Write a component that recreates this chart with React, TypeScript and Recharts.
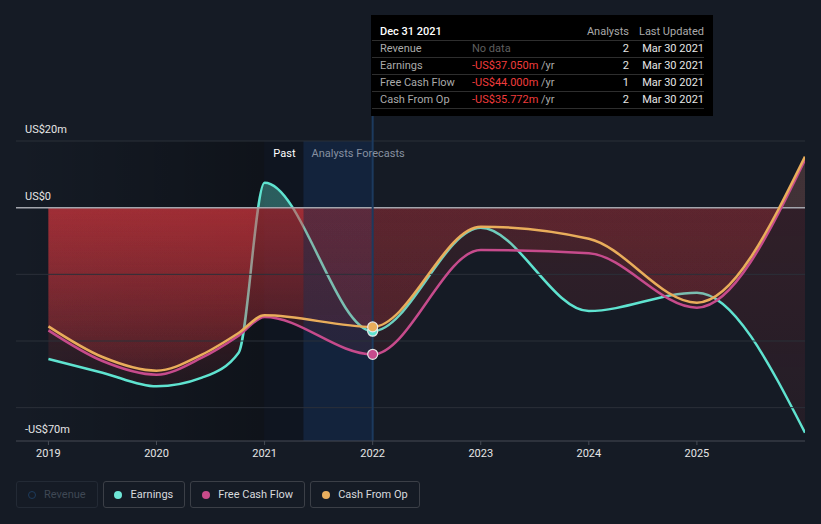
import React from 'react';
import {
  ComposedChart, Area, Line, XAxis, YAxis, ReferenceLine, ReferenceArea,
} from 'recharts';

// ---------- data ----------
const pastDates = [2019.0, 2019.5, 2020.0, 2020.42, 2020.76, 2021.0];
const forecastDates = [2022, 2023, 2024, 2025, 2026];

const earningsPast = [-45.4, -49.5, -53.6, -51.0, -43.5, 7.5];
const earningsForecast = [-37.05, -6.0, -31.0, -25.5, -67.5];

const fcfPast = [-36.8, -46.0, -50.1, -45.0, -38.4, -32.8];
const fcfForecast = [-44.0, -12.7, -13.7, -30.0, 14.3];

const cfoPast = [-35.6, -44.8, -48.9, -44.1, -37.6, -32.3];
const cfoForecast = [-35.772, -5.7, -9.3, -28.5, 15.3];

const xTicks = [2019, 2020, 2021, 2022, 2023, 2024, 2025];
const yTickValues = [20, 0, -70];
const yTickLabels = ['US$20m', 'US$0', '-US$70m'];
const gridValues = [20, -20, -40, -60];

const tooltipTitle = 'Dec 31 2021';
const tooltipRows = [
  { name: 'Revenue', value: 'No data', analysts: '2', updated: 'Mar 30 2021' },
  { name: 'Earnings', value: '-US$37.050m', analysts: '2', updated: 'Mar 30 2021' },
  { name: 'Free Cash Flow', value: '-US$44.000m', analysts: '1', updated: 'Mar 30 2021' },
  { name: 'Cash From Op', value: '-US$35.772m', analysts: '2', updated: 'Mar 30 2021' },
];

const legendItems = [
  { name: 'Revenue', color: '#1d3b5c', active: false },
  { name: 'Earnings', color: '#6ee6d6', active: true },
  { name: 'Free Cash Flow', color: '#c94b8a', active: true },
  { name: 'Cash From Op', color: '#e9ae5e', active: true },
];

const PAST_START = 2018.7;
const PAST_END = 2021.0;
const FORECAST_START = 2021.36;
const MARKER_DATE = 2022;

// ---------- layout / style ----------
const W = 821;
const H = 524;
const X_MIN = 2018.7;
const X_MAX = 2026;
const Y_MIN = -70;
const Y_MAX = 20;
const MARGIN = { top: 141, right: 16, bottom: 53, left: 16 };
const XAXIS_H = 30;
const PLOT_TOP = MARGIN.top;
const PLOT_BOTTOM = H - MARGIN.bottom - XAXIS_H;
const PLOT_W = W - MARGIN.left - MARGIN.right;
const ZERO_FRAC = (Y_MAX - 0) / (Y_MAX - Y_MIN);
const SPLIT_X = MARGIN.left + ((FORECAST_START - X_MIN) / (X_MAX - X_MIN)) * PLOT_W;

const BG = '#151b25';
const C_EARN = '#5fe3d0';
const C_FCF = '#c64b8c';
const C_CFO = '#e9ad5b';
const C_RED = '#dc373e';
const FONT = 'Roboto, "Open Sans", sans-serif';

const build = (vals: number[]) =>
  pastDates.concat(forecastDates).map((d, i) => ({ x: d, v: vals[i] }));

const earningsData = build(earningsPast.concat(earningsForecast));
const fcfData = build(fcfPast.concat(fcfForecast));
const cfoData = build(cfoPast.concat(cfoForecast));

function grad(id: string, pos: string, posA: number, negTop: number, negBottom: number) {
  return (
    <linearGradient id={id} key={id} gradientUnits="userSpaceOnUse" x1={0} y1={PLOT_TOP} x2={0} y2={PLOT_BOTTOM}>
      <stop offset={0} stopColor={pos} stopOpacity={posA} />
      <stop offset={ZERO_FRAC} stopColor={pos} stopOpacity={posA} />
      <stop offset={ZERO_FRAC} stopColor={C_RED} stopOpacity={negTop} />
      <stop offset={1} stopColor={C_RED} stopOpacity={negBottom} />
    </linearGradient>
  );
}

function pattern(id: string) {
  return (
    <pattern id={id} key={id} patternUnits="userSpaceOnUse" x={0} y={0} width={W} height={H}>
      <rect x={0} y={0} width={SPLIT_X} height={H} fill={`url(#${id}-s)`} />
      <rect x={SPLIT_X} y={0} width={W - SPLIT_X} height={H} fill={`url(#${id}-w)`} />
    </pattern>
  );
}

const makeDot = (color: string) => (props: any) => {
  const { cx, cy, payload, index } = props;
  if (!payload || payload.x !== MARKER_DATE || cx == null) return <g key={`d${index}`} />;
  return <circle key={`d${index}`} cx={cx} cy={cy} r={5} fill={color} stroke="#e6e6e6" strokeWidth={1.2} />;
};

const yLabel = (text: string) => (props: any) => {
  const vb = (props && props.viewBox) || {};
  const x = typeof vb.x === 'number' ? vb.x : MARGIN.left;
  const y = typeof vb.y === 'number' ? vb.y : 0;
  return (
    <text x={x + 9} y={y - 8} fill="#e6e6e6" fontSize={11} fontFamily={FONT}>
      {text}
    </text>
  );
};

export default function App() {
  return (
    <div style={{ position: 'absolute', left: 0, top: 0, width: W, height: H, background: BG, fontFamily: FONT, overflow: 'hidden' }}>
      <ComposedChart width={W} height={H} margin={MARGIN}>
        <defs>
          <linearGradient id="pastShade" x1={0} y1={0} x2={1} y2={0}>
            <stop offset={0} stopColor="#000" stopOpacity={0} />
            <stop offset={1} stopColor="#000" stopOpacity={0.3} />
          </linearGradient>
          {grad('pe-s', C_EARN, 0.35, 0.33, 0.0)}
          {grad('pe-w', C_EARN, 0.12, 0.14, 0.07)}
          {grad('pf-s', C_FCF, 0.12, 0.33, 0.0)}
          {grad('pf-w', C_FCF, 0.12, 0.14, 0.07)}
          {grad('pc-s', C_CFO, 0.12, 0.33, 0.0)}
          {grad('pc-w', C_CFO, 0.12, 0.14, 0.07)}
          {pattern('pe')}
          {pattern('pf')}
          {pattern('pc')}
        </defs>

        <XAxis
          type="number"
          dataKey="x"
          domain={[X_MIN, X_MAX]}
          allowDataOverflow
          ticks={xTicks}
          height={XAXIS_H}
          tickSize={4}
          tickMargin={4}
          stroke="#464b55"
          tick={{ fill: '#e6e6e6', fontSize: 11, fontFamily: FONT }}
          tickFormatter={(v: number) => String(v)}
        />
        <YAxis type="number" dataKey="v" domain={[Y_MIN, Y_MAX]} allowDataOverflow hide />

        <ReferenceArea x1={PAST_START} x2={PAST_END} fill="url(#pastShade)" fillOpacity={1} stroke="none" ifOverflow="visible" />
        <ReferenceArea
          x1={PAST_END}
          x2={FORECAST_START}
          fill="#0f1520"
          fillOpacity={1}
          stroke="none"
          label={{ value: 'Past', position: 'insideTopRight', offset: 8, fill: '#ffffff', fontSize: 11, fontFamily: FONT }}
        />
        <ReferenceArea
          x1={FORECAST_START}
          x2={MARKER_DATE}
          fill="#13233c"
          fillOpacity={1}
          stroke="none"
          label={{ value: 'Analysts Forecasts', position: 'insideTopLeft', offset: 8, fill: '#8690a0', fontSize: 11, fontFamily: FONT }}
        />

        {gridValues.map((g) => (
          <ReferenceLine key={`g${g}`} y={g} stroke="#2b3039" strokeWidth={1} />
        ))}

        <Area data={earningsData} dataKey="v" type="monotone" baseValue={0} fill="url(#pe)" fillOpacity={1} stroke="none" isAnimationActive={false} dot={false} activeDot={false} />
        <Area data={earningsData} dataKey="v" type="monotone" baseValue={0} fill="none" stroke={C_EARN} strokeWidth={2.5} isAnimationActive={false} dot={makeDot(C_EARN)} activeDot={false} />
        <Area data={fcfData} dataKey="v" type="monotone" baseValue={0} fill="url(#pf)" fillOpacity={1} stroke="none" isAnimationActive={false} dot={false} activeDot={false} />
        <Area data={cfoData} dataKey="v" type="monotone" baseValue={0} fill="url(#pc)" fillOpacity={1} stroke="none" isAnimationActive={false} dot={false} activeDot={false} />

        <ReferenceLine y={0} stroke="#a3a6ad" strokeWidth={1.5} />
        <ReferenceLine
          segment={[{ x: MARKER_DATE, y: Y_MIN }, { x: MARKER_DATE, y: 27.5 }]}
          stroke="#1c3a5e"
          strokeWidth={2}
          ifOverflow="visible"
        />

        {yTickValues.map((v, i) => (
          <ReferenceLine key={`yl${v}`} y={v} stroke="none" label={yLabel(yTickLabels[i])} />
        ))}

        <Line data={fcfData} dataKey="v" type="monotone" stroke={C_FCF} strokeWidth={2.5} isAnimationActive={false} dot={makeDot(C_FCF)} activeDot={false} />
        <Line data={cfoData} dataKey="v" type="monotone" stroke={C_CFO} strokeWidth={2.5} isAnimationActive={false} dot={makeDot(C_CFO)} activeDot={false} />
      </ComposedChart>

      {/* tooltip box */}
      <div style={{ position: 'absolute', left: 371, top: 15, width: 342, height: 101, background: '#000', fontSize: 11, color: '#aaaaaa' }}>
        <div style={{ position: 'absolute', left: 9, top: 10, color: '#ffffff', fontWeight: 500 }}>{tooltipTitle}</div>
        <div style={{ position: 'absolute', right: 84, top: 10 }}>Analysts</div>
        <div style={{ position: 'absolute', right: 9, top: 10 }}>Last Updated</div>
        {[25, 42, 59, 76, 93].map((t) => (
          <div key={t} style={{ position: 'absolute', left: 1, right: 9, top: t, height: 1, background: '#2e2e2e' }} />
        ))}
        {tooltipRows.map((r, i) => (
          <React.Fragment key={r.name}>
            <div style={{ position: 'absolute', left: 9, top: 27 + i * 17 }}>{r.name}</div>
            <div style={{ position: 'absolute', left: 101, top: 27 + i * 17 }}>
              {r.value === 'No data' ? (
                <span style={{ color: '#5f5f5f' }}>{r.value}</span>
              ) : (
                <>
                  <span style={{ color: '#f03c3c' }}>{r.value}</span>
                  <span style={{ color: '#aaaaaa' }}> /yr</span>
                </>
              )}
            </div>
            <div style={{ position: 'absolute', right: 84, top: 27 + i * 17, color: '#e6e6e6' }}>{r.analysts}</div>
            <div style={{ position: 'absolute', right: 9, top: 27 + i * 17, color: '#e6e6e6' }}>{r.updated}</div>
          </React.Fragment>
        ))}
      </div>

      {/* legend */}
      <div style={{ position: 'absolute', left: 16, top: 481, display: 'flex', gap: 5 }}>
        {legendItems.map((it) => (
          <div
            key={it.name}
            style={{
              boxSizing: 'border-box',
              height: 27,
              display: 'flex',
              alignItems: 'center',
              padding: '0 11px 0 10.5px',
              border: `1px solid ${it.active ? '#3b3f47' : '#232a35'}`,
              borderRadius: 3,
              fontSize: 11,
              color: it.active ? '#d8dade' : '#3f4854',
            }}
          >
            <span
              style={{
                display: 'inline-block',
                boxSizing: 'border-box',
                width: 8,
                height: 8,
                borderRadius: '50%',
                background: it.active ? it.color : 'transparent',
                border: it.active ? 'none' : `1.5px solid ${it.color}`,
                marginRight: 8.5,
              }}
            />
            {it.name}
          </div>
        ))}
      </div>
    </div>
  );
}
